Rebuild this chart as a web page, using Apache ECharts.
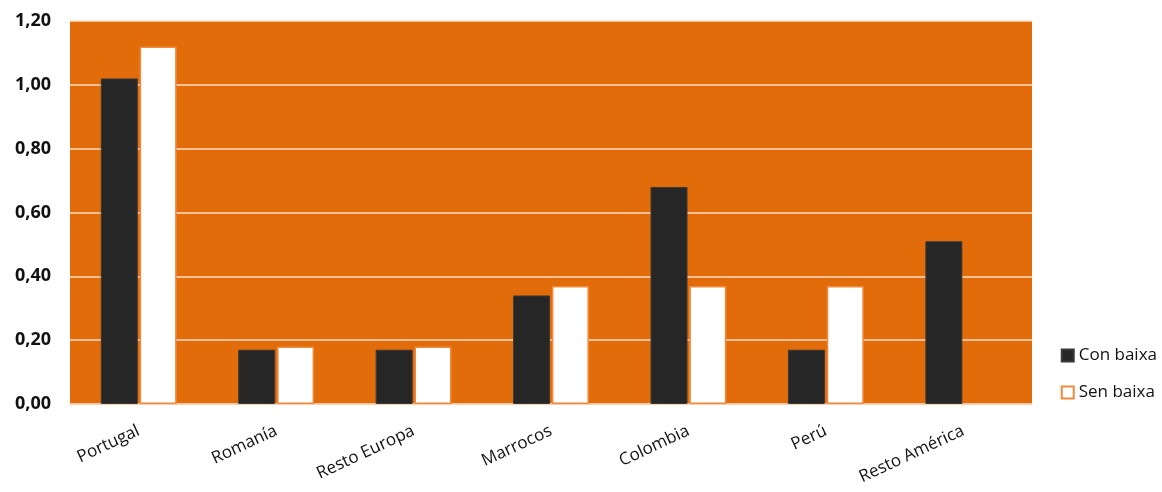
<!DOCTYPE html>
<html><head><meta charset="utf-8">
<script src="https://cdn.jsdelivr.net/npm/echarts@6/dist/echarts.min.js"></script>
<style>html,body{margin:0;padding:0;background:#fff}#c{width:1162px;height:492px}</style>
</head><body><div id="c"></div>
<script>
const categories = ['Portugal','Romanía','Resto Europa','Marrocos','Colombia','Perú','Resto América'];
const conBaixa = [1.02, 0.17, 0.17, 0.34, 0.68, 0.17, 0.51];
const senBaixa = [1.12, 0.18, 0.18, 0.37, 0.37, 0.37, null];
const seriesNames = ['Con baixa','Sen baixa'];
const font = 'Open Sans';
const chart = echarts.init(document.getElementById('c'));
chart.setOption({
  animation:false,
  grid:{left:70,right:130,top:21,bottom:88,show:true,backgroundColor:'#E36C0A',borderWidth:0},
  legend:{orient:'vertical',right:0,top:342,itemGap:20,itemWidth:12,itemHeight:12,
    textStyle:{fontFamily:font,fontSize:17,color:'#111'},
    data:[{name:seriesNames[0],icon:'rect'},{name:seriesNames[1],icon:'rect'}]},
  xAxis:{type:'category',data:categories,
    axisLine:{show:true,lineStyle:{color:'#f4c9a6',width:1.5}},axisTick:{show:false},
    axisLabel:{rotate:25,interval:0,fontFamily:font,fontSize:17,color:'#111',margin:26}},
  yAxis:{type:'value',min:0,max:1.2,interval:0.2,
    axisLine:{show:false},axisTick:{show:false},
    splitLine:{lineStyle:{color:'#f8dcc4',width:1.5}},
    axisLabel:{fontFamily:font,fontSize:18,fontWeight:'bold',color:'#111',margin:19,
      formatter:v=>v.toFixed(2).replace('.',',')}},
  series:[
    {name:seriesNames[0],type:'bar',data:conBaixa,barWidth:37,barGap:'5%',
      itemStyle:{color:'#262626',borderColor:'#3a3a3a',borderWidth:1}},
    {name:seriesNames[1],type:'bar',data:senBaixa,barWidth:37,
      itemStyle:{color:'#ffffff',borderColor:'#F08A3C',borderWidth:1.5}}
  ]
});
</script></body></html>
